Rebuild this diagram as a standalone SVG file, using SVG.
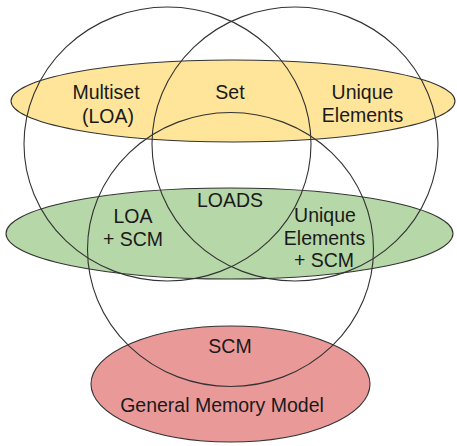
<svg xmlns="http://www.w3.org/2000/svg" width="457" height="446" viewBox="0 0 457 446">
<style>
.edge{fill:none;stroke:#333;stroke-width:1.1}
.band{stroke:#333;stroke-width:1.1}
.t{font-family:"Liberation Sans",Arial,sans-serif;font-size:19.5px;fill:#1a1a1a;text-anchor:middle}
</style>
<rect width="457" height="446" fill="#fff"/>
<g id="yellow-band">
<ellipse class="band" cx="233" cy="101" rx="222" ry="41" fill="#ffe599"/>
</g>
<g id="green-band">
<ellipse class="band" cx="229.5" cy="233.5" rx="223.5" ry="45.5" fill="#b6d7a8"/>
</g>
<g id="red-band">
<ellipse class="band" cx="230.5" cy="384" rx="139.5" ry="58" fill="#ea9999"/>
</g>
<g id="circles">
<ellipse id="circle-left" class="edge" cx="167.5" cy="144" rx="143.5" ry="137"/>
<ellipse id="circle-right" class="edge" cx="295" cy="144" rx="143" ry="137"/>
<ellipse id="circle-bottom" class="edge" cx="230.5" cy="249.5" rx="143" ry="137"/>
</g>
<g id="labels">
<g id="multiset"><text class="t" x="106" y="99">Multiset</text><text class="t" x="108" y="123">(LOA)</text></g>
<g id="set"><text class="t" x="230" y="99">Set</text></g>
<g id="unique"><text class="t" x="362.5" y="99">Unique</text><text class="t" x="362.5" y="122">Elements</text></g>
<g id="loads"><text class="t" x="230" y="206.5">LOADS</text></g>
<g id="loa-scm"><text class="t" x="133" y="223">LOA</text><text class="t" x="133" y="246">+ SCM</text></g>
<g id="unique-scm"><text class="t" x="325" y="222">Unique</text><text class="t" x="324.5" y="245">Elements</text><text class="t" x="324" y="267">+ SCM</text></g>
<g id="scm"><text class="t" x="230" y="353">SCM</text></g>
<g id="gmm"><text class="t" x="222" y="412">General Memory Model</text></g>
</g>
</svg>
